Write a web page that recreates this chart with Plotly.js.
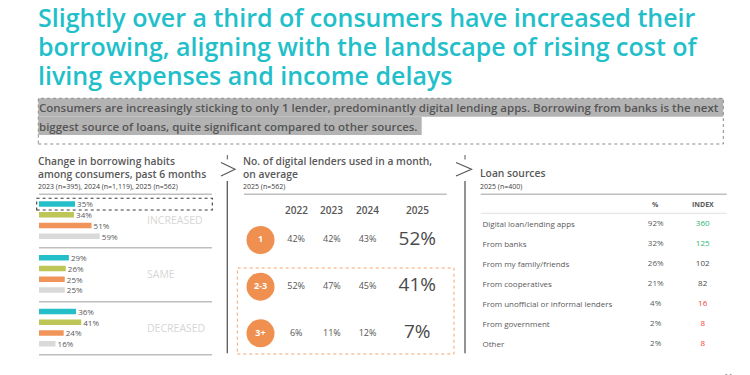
<!DOCTYPE html>
<html>
<head>
<meta charset="utf-8">
<script src="https://cdn.plot.ly/plotly-3.0.1.min.js"></script>
<style>
  html, body { margin: 0; padding: 0; background: #ffffff; }
  #chart { width: 750px; height: 375px; }
</style>
</head>
<body>
<div id="chart"></div>
<script>
// Change in borrowing habits among consumers, past 6 months (% of consumers)
const habitGroups = ['INCREASED', 'SAME', 'DECREASED'];
const habitYears = ['2025', '2024', '2023', '2022'];
const habit2025 = [35, 29, 36];
const habit2024 = [34, 26, 41];
const habit2023 = [51, 25, 24];
const habit2022 = [59, 25, 16];

// No. of digital lenders used in a month, on average (%)
const lenderCounts = ['1', '2-3', '3+'];
const lenderYears = ['2022', '2023', '2024'];
const lenders2022 = [42, 52, 6];
const lenders2023 = [42, 47, 11];
const lenders2024 = [43, 45, 12];
const lenders2025 = [52, 41, 7];

// Loan sources, 2025
const loanSources = ['Digital loan/lending apps', 'From banks', 'From my family/friends',
  'From cooperatives', 'From unofficial or informal lenders', 'From government', 'Other'];
const loanShare = [92, 32, 26, 21, 4, 2, 2];
const loanIndex = [360, 125, 102, 82, 16, 8, 8];

// ---- page geometry helpers (pixel -> paper) ----
const W = 750, H = 375;
const px = x => x / W;
const py = y => 1 - y / H;
const FONT = '"Open Sans", "Noto Sans", sans-serif';
const TEAL = '#22bfca';
const GREY_TXT = '#595959';
const ORANGE = '#ef8f50';

const yearColors = { '2025': '#25bfc9', '2024': '#bec657', '2023': '#f0945a', '2022': '#d9d9d9' };
const habitByYear = { '2025': habit2025, '2024': habit2024, '2023': habit2023, '2022': habit2022 };
const GROUP_STRIDE = 5; // bar slots per group incl. spacing

const traces = [];

// Left panel: horizontal bars per group and year
habitYears.forEach((yr, i) => {
  traces.push({
    type: 'bar', orientation: 'h',
    x: habitByYear[yr],
    y: habitGroups.map((g, gi) => gi * GROUP_STRIDE + i),
    width: 0.5,
    marker: { color: yearColors[yr] },
    texttemplate: '\u00a0%{x}%', textposition: 'outside', constraintext: 'none',
    outsidetextfont: { family: FONT, size: 8, color: GREY_TXT },
    textfont: { family: FONT, size: 8, color: GREY_TXT },
    cliponaxis: false, hoverinfo: 'skip', name: yr,
    xaxis: 'x', yaxis: 'y'
  });
});

// Middle panel: lender-count badges
traces.push({
  type: 'scatter', mode: 'markers+text',
  x: lenderCounts.map(() => 'lenders'), y: lenderCounts,
  text: lenderCounts, textposition: 'middle center',
  marker: { size: 28, color: ORANGE },
  textfont: { family: FONT, size: 9, color: '#ffffff', weight: 700 },
  cliponaxis: false, hoverinfo: 'skip', xaxis: 'x2', yaxis: 'y2'
});
// Middle panel: 2022-2024 shares
const lenderByYear = { '2022': lenders2022, '2023': lenders2023, '2024': lenders2024 };
traces.push({
  type: 'scatter', mode: 'text',
  x: lenderYears.flatMap(yr => lenderCounts.map(() => yr)),
  y: lenderYears.flatMap(() => lenderCounts),
  text: lenderYears.flatMap(yr => lenderByYear[yr].map(v => v + '%')),
  textposition: 'middle center',
  textfont: { family: FONT, size: 9, color: '#555555' },
  cliponaxis: false, hoverinfo: 'skip', xaxis: 'x2', yaxis: 'y2'
});
// Middle panel: 2025 shares, emphasised
traces.push({
  type: 'scatter', mode: 'text',
  x: lenderCounts.map(() => '2025'), y: lenderCounts,
  text: lenders2025.map(v => v + '%'),
  textposition: 'middle center',
  textfont: { family: FONT, size: 19, color: '#4a4a4a' },
  cliponaxis: false, hoverinfo: 'skip', xaxis: 'x3', yaxis: 'y2'
});

// Right panel: share and index columns
traces.push({
  type: 'scatter', mode: 'text',
  x: loanSources.map(() => '%'), y: loanSources,
  text: loanShare.map(v => v + '%'), textposition: 'middle center',
  textfont: { family: FONT, size: 8, color: GREY_TXT },
  cliponaxis: false, hoverinfo: 'skip', xaxis: 'x4', yaxis: 'y4'
});
traces.push({
  type: 'scatter', mode: 'text',
  x: loanSources.map(() => 'INDEX'), y: loanSources,
  text: loanIndex.map(String), textposition: 'middle center',
  textfont: { family: FONT, size: 8,
    color: loanIndex.map(v => v > 110 ? '#2bb673' : (v < 50 ? '#f2443d' : '#4a4a4a')) },
  cliponaxis: false, hoverinfo: 'skip', xaxis: 'x4', yaxis: 'y4'
});

// ---- decorations ----
const shapes = [];
function hline(x0, x1, y, color, width, dash) {
  shapes.push({ type: 'line', xref: 'paper', yref: 'paper', x0: px(x0), x1: px(x1), y0: py(y), y1: py(y),
    line: { color, width, dash: dash || 'solid' } });
}
function vline(x, y0, y1, color, width) {
  shapes.push({ type: 'line', xref: 'paper', yref: 'paper', x0: px(x), x1: px(x), y0: py(y0), y1: py(y1),
    line: { color, width } });
}
function rect(x0, y0, x1, y1, fill, lineColor, lineWidth, dash) {
  shapes.push({ type: 'rect', xref: 'paper', yref: 'paper', x0: px(x0), x1: px(x1), y0: py(y1), y1: py(y0),
    fillcolor: fill || 'rgba(0,0,0,0)', layer: 'below',
    line: { color: lineColor || 'rgba(0,0,0,0)', width: lineWidth || 0, dash: dash || 'solid' } });
}
function chevron(x0, xTip, yTop, yBot, color) {
  const ym = (yTop + yBot) / 2;
  shapes.push({ type: 'path', xref: 'paper', yref: 'paper',
    path: `M ${px(x0)} ${py(yTop)} L ${px(xTip)} ${py(ym)} L ${px(x0)} ${py(yBot)}`,
    line: { color, width: 1.2 } });
}

// Highlighted summary box
rect(38.3, 98.3, 723.3, 116.7, '#b3b3b3');
rect(38.3, 116.7, 421.7, 135, '#b3b3b3');
rect(38.3, 98.3, 723.3, 144, null, '#8c8c8c', 1, 'dot');

// Left panel rules
[194.3, 247.7, 301.7, 354.7].forEach(y => hline(39, 212, y, '#bfbfbf', 1.6));
rect(36.7, 198.3, 212.3, 210, null, '#3a3a3a', 1.1, 'dot');

// Middle panel rules
hline(244, 446.7, 194.3, '#bfbfbf', 1.6);
rect(237.3, 268, 454, 354, null, '#f3a46e', 1, 'dot');

// Right panel rules
hline(480.7, 726.7, 194.3, '#bfbfbf', 1.6);
hline(480.7, 726.7, 213.3, '#e0e0e0', 1);

// Section dividers
[[227.3, 221, 235], [465, 456, 471.5]].forEach(([x, c0, tip]) => {
  vline(x, 155, 159.5, '#595959', 1);
  chevron(c0, tip, 162.5, 176, '#595959');
  vline(x, 181, 353.3, '#595959', 1.3);
});

// ---- text ----
const annotations = [];
function label(text, x, y, opts) {
  annotations.push(Object.assign({
    text, xref: 'paper', yref: 'paper', x: px(x), y: py(y), xanchor: 'left', yanchor: 'middle',
    showarrow: false, borderpad: 0, font: { family: FONT, size: 10, color: GREY_TXT }
  }, opts || {}));
}

// Headline
const headFont = { family: FONT, size: 25, color: TEAL, weight: 600 };
label('Slightly over a third of consumers have increased their', 37, 16.5, { font: headFont });
label('borrowing, aligning with the landscape of rising cost of', 37, 46, { font: headFont });
label('living expenses and income delays', 37, 74.5, { font: headFont });

// Summary
const sumFont = { family: FONT, size: 11.5, color: '#555555', weight: 600 };
label('Consumers are increasingly sticking to only 1 lender, predominantly digital lending apps. Borrowing from banks is the next', 38, 107.3,
  { font: sumFont });
label('biggest source of loans, quite significant compared to other sources.', 38, 126, { font: sumFont });

// Left panel titles
const panelFont = { family: FONT, size: 10.3, color: GREY_TXT, weight: 600 };
const noteFont = { family: FONT, size: 7, color: '#404040' };
label('Change in borrowing habits', 37, 160.7, { font: panelFont });
label('among consumers, past 6 months', 37, 173.5, { font: panelFont });
label('2023 (n=395), 2024 (n=1,119), 2025 (n=562)', 37, 186.7, { font: noteFont });
habitGroups.forEach((g, gi) => {
  annotations.push({
    text: g, xref: 'paper', yref: 'y', x: px(145), y: gi * GROUP_STRIDE + (habitYears.length - 1) / 2,
    xanchor: 'left', yanchor: 'middle', showarrow: false,
    font: { family: FONT, size: 10.5, color: '#d6d6d6' }
  });
});

// Middle panel titles
label('No. of digital lenders used in a month,', 242, 160.7, { font: panelFont });
label('on average', 242, 173.5, { font: panelFont });
label('2025 (n=562)', 242, 186.7, { font: noteFont });
lenderYears.forEach((yr, i) => {
  annotations.push({
    text: yr, xref: 'x2', yref: 'paper', x: i + 1, y: py(210), xanchor: 'center', yanchor: 'middle',
    showarrow: false, font: { family: FONT, size: 10, color: '#555555', weight: 600 }
  });
});
annotations.push({
  text: '2025', xref: 'x3', yref: 'paper', x: 0, y: py(210), xanchor: 'center', yanchor: 'middle',
  showarrow: false, font: { family: FONT, size: 10, color: '#555555', weight: 600 }
});

// Right panel titles
label('Loan sources', 479, 172.7, { font: panelFont });
label('2025 (n=400)', 479, 186.7, { font: noteFont });
['%', 'INDEX'].forEach((h, i) => {
  annotations.push({
    text: h, xref: 'x4', yref: 'paper', x: i, y: py(204), xanchor: 'center', yanchor: 'middle',
    showarrow: false, font: { family: FONT, size: 7, color: GREY_TXT, weight: 700 }
  });
});

// Page number
label('11', 723, 369, { font: { family: FONT, size: 8, color: '#777777' }, yanchor: 'top' });

const hidden = { visible: false, fixedrange: true };
const layout = {
  width: W, height: H,
  margin: { l: 0, r: 0, t: 0, b: 0, pad: 0 },
  paper_bgcolor: '#ffffff', plot_bgcolor: 'rgba(0,0,0,0)',
  showlegend: false, barmode: 'overlay',
  font: { family: FONT },
  xaxis: Object.assign({}, hidden, { domain: [px(39), px(212)], range: [0, 168], anchor: 'y' }),
  yaxis: Object.assign({}, hidden, { domain: [py(354.7), py(194.3)], range: [14.02, -0.9], anchor: 'x' }),
  xaxis2: Object.assign({}, hidden, { type: 'category', categoryorder: 'array',
    categoryarray: ['lenders'].concat(lenderYears), domain: [px(242.65), px(385.45)], range: [-0.5, 3.5], anchor: 'y2' }),
  yaxis2: Object.assign({}, hidden, { type: 'category', categoryorder: 'array', categoryarray: lenderCounts,
    domain: [py(356.6), py(216.7)], range: [2.5, -0.5], anchor: 'x2' }),
  xaxis3: Object.assign({}, hidden, { type: 'category', categoryarray: ['2025'], categoryorder: 'array',
    domain: [px(392.3), px(442.3)], range: [-0.5, 0.5], anchor: 'y2' }),
  xaxis4: Object.assign({}, hidden, { type: 'category', categoryorder: 'array', categoryarray: ['%', 'INDEX'],
    domain: [px(632.2), px(726.2)], range: [-0.5, 1.5], anchor: 'y4' }),
  yaxis4: { type: 'category', categoryorder: 'array', categoryarray: loanSources,
    domain: [py(354.3), py(214)], range: [6.5, -0.5], anchor: 'free', position: px(478.5),
    ticklabelposition: 'inside', ticks: '', showline: false, showgrid: false, zeroline: false,
    tickfont: { family: FONT, size: 8, color: GREY_TXT }, fixedrange: true },
  shapes, annotations
};

Plotly.newPlot('chart', traces, layout, { staticPlot: true, displayModeBar: false });
</script>
</body>
</html>
